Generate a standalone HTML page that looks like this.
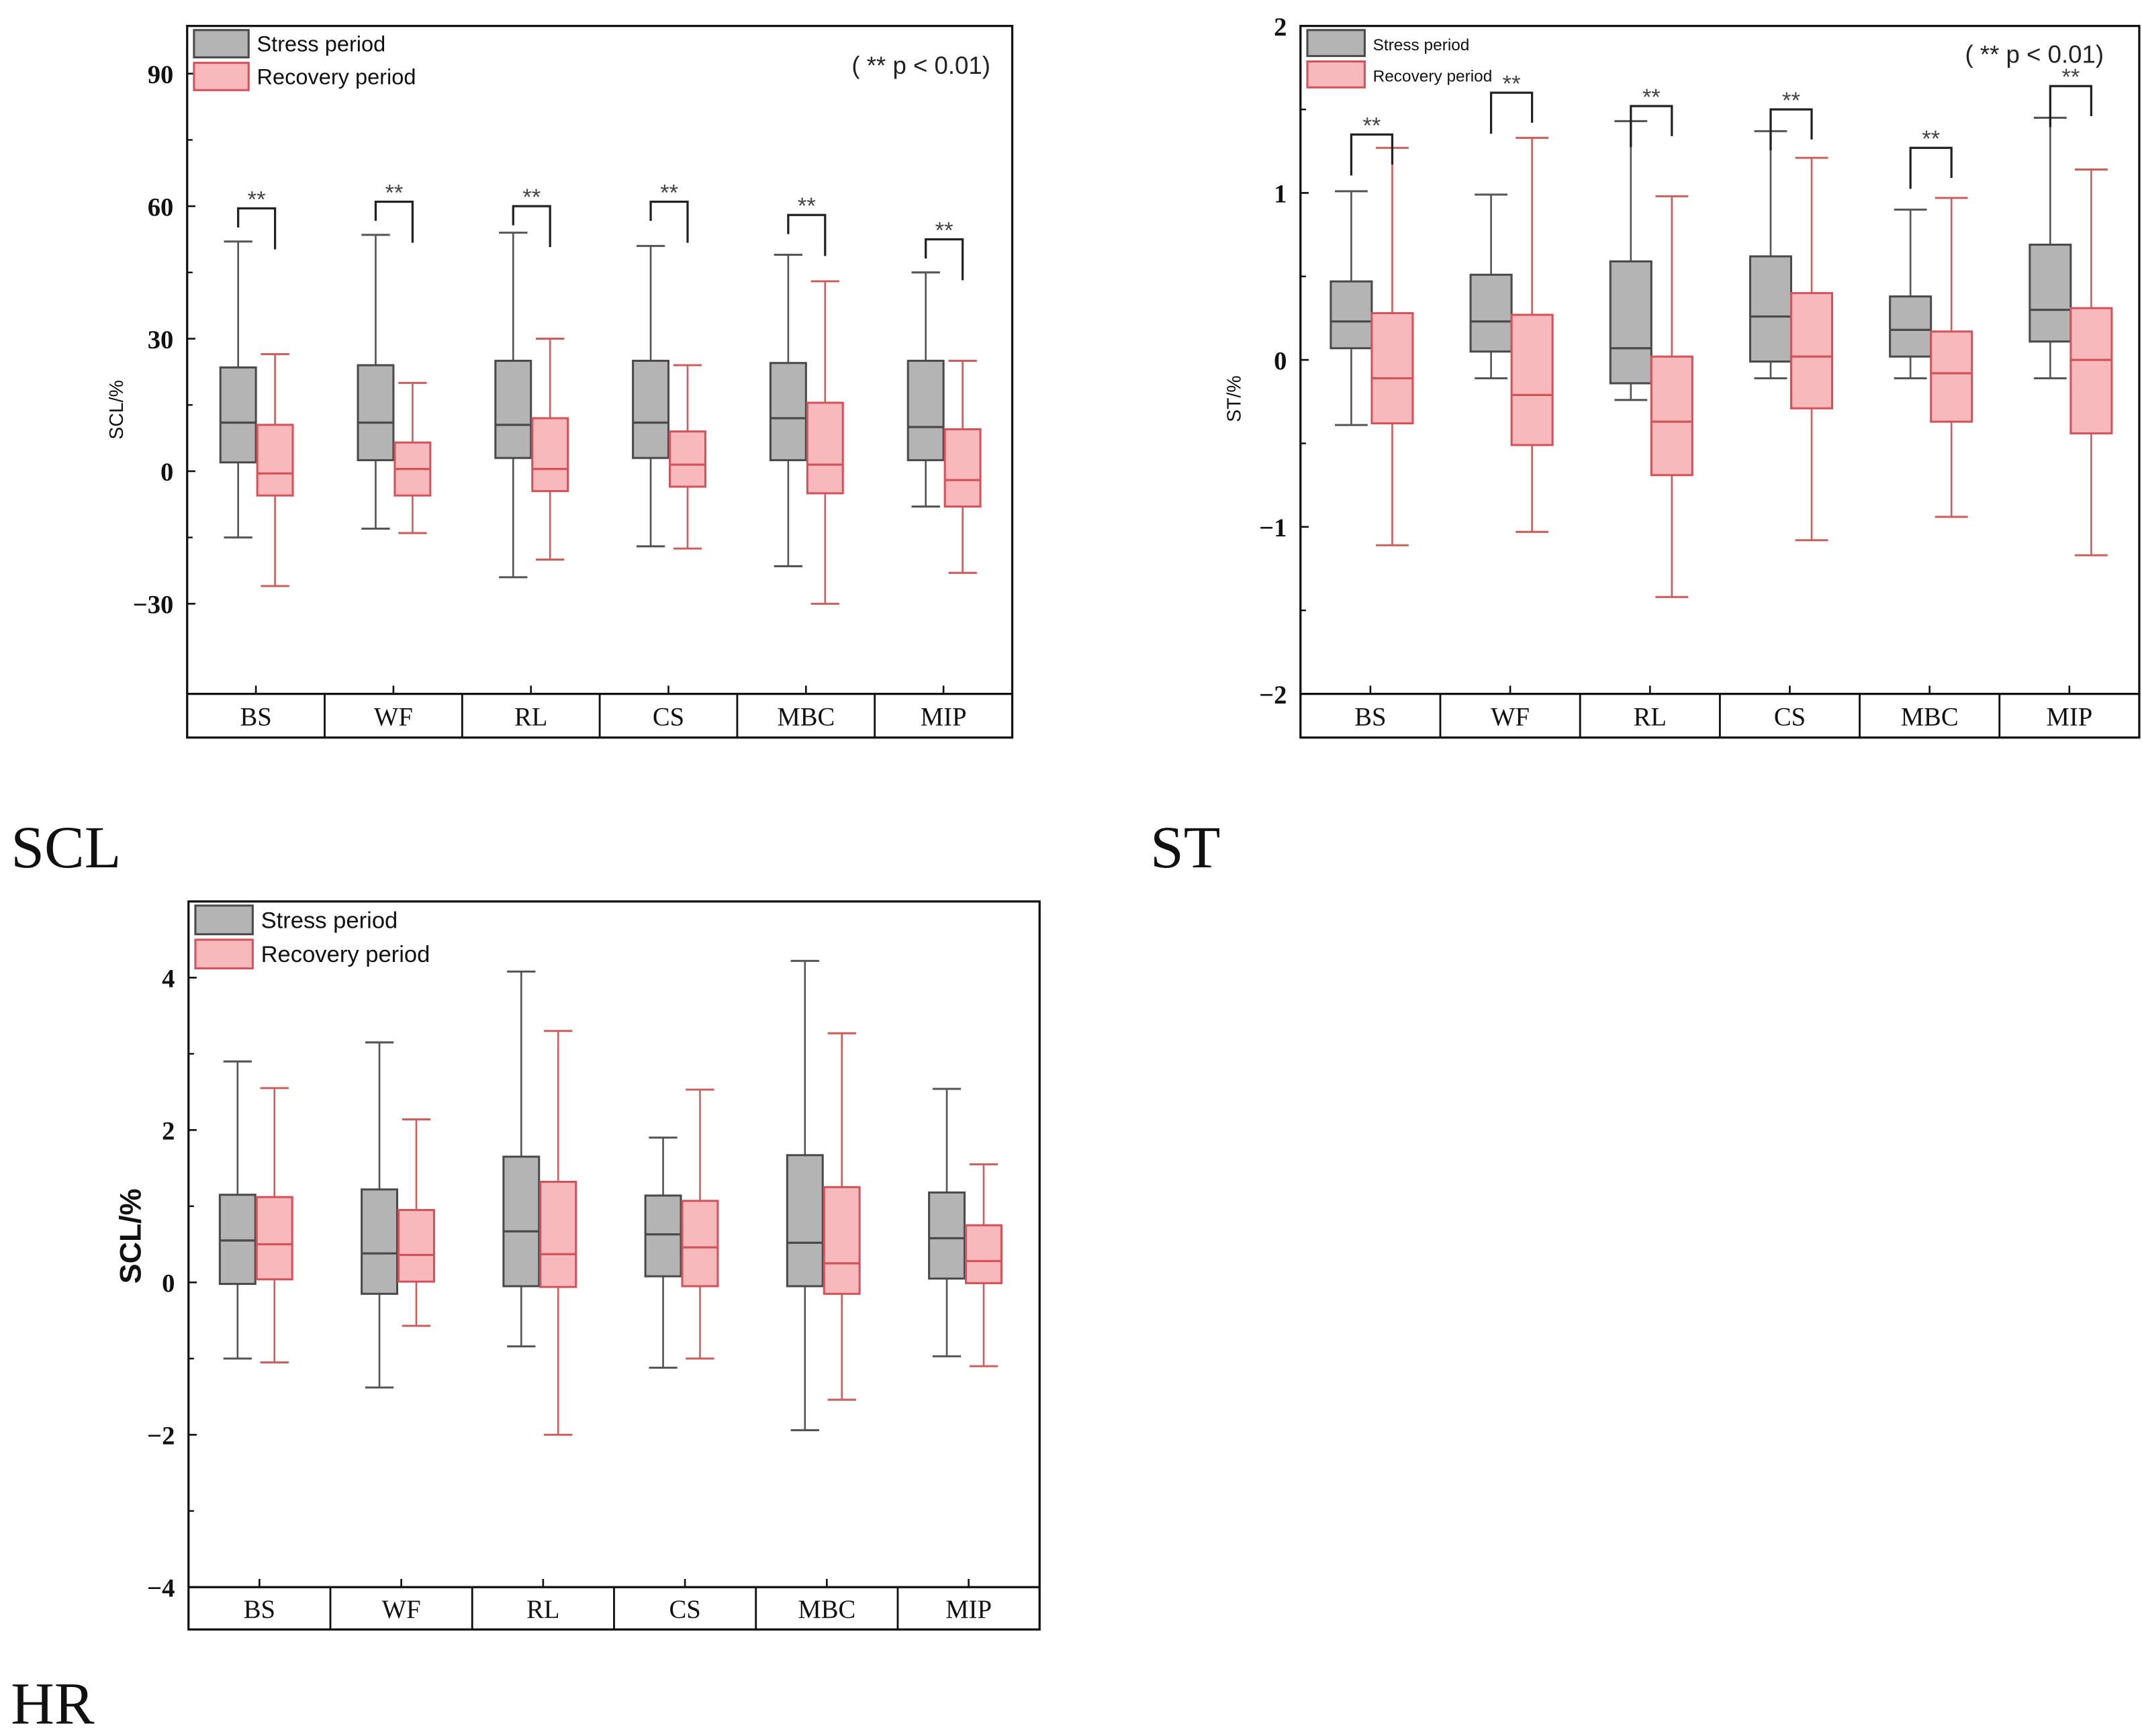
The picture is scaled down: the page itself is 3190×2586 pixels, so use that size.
<!DOCTYPE html>
<html><head><meta charset="utf-8">
<style>
html,body{margin:0;padding:0;background:#fff;}
svg{display:block;}
.tick{font-family:"Liberation Serif",serif;font-weight:bold;font-size:19px;fill:#111;}
.cat{font-family:"Liberation Serif",serif;font-size:19px;fill:#111;}
.leg{font-family:"Liberation Sans",sans-serif;font-size:16px;fill:#111;}
.panel{font-family:"Liberation Serif",serif;font-size:44px;fill:#111;}
</style></head>
<body>
<svg id="fig" width="3190" height="2586" viewBox="0 0 1568 1271" preserveAspectRatio="none" xmlns="http://www.w3.org/2000/svg">
<rect x="0" y="0" width="1568" height="1271" fill="#fff"/>
<text class="panel" x="8" y="635">SCL</text>
<text class="panel" x="842" y="635">ST</text>
<text class="panel" x="8" y="1262">HR</text>
</svg>
<script>
const categories = ["BS","WF","RL","CS","MBC","MIP"];
// SCL panel: [whiskerHigh, q3, median, q1, whiskerLow]
const sclStress = [[52,23.5,11,2,-15],[53.5,24,11,2.5,-13],[54,25,10.5,3,-24],[51,25,11,3,-17],[49,24.5,12,2.5,-21.5],[45,25,10,2.5,-8]];
const sclRecovery = [[26.5,10.5,-0.5,-5.5,-26],[20,6.5,0.5,-5.5,-14],[30,12,0.5,-4.5,-20],[24,9,1.5,-3.5,-17.5],[43,15.5,1.5,-5,-30],[25,9.5,-2,-8,-23]];
const sclBrackets = [59.5,61,60,61,58,52.5];
const sclTicks = [-30,0,30,60,90];
// ST panel
const stStress = [[1.01,0.47,0.23,0.07,-0.39],[0.99,0.51,0.23,0.05,-0.11],[1.43,0.59,0.07,-0.14,-0.24],[1.37,0.62,0.26,-0.01,-0.11],[0.90,0.38,0.18,0.02,-0.11],[1.45,0.69,0.30,0.11,-0.11]];
const stRecovery = [[1.27,0.28,-0.11,-0.38,-1.11],[1.33,0.27,-0.21,-0.51,-1.03],[0.98,0.02,-0.37,-0.69,-1.42],[1.21,0.40,0.02,-0.29,-1.08],[0.97,0.17,-0.08,-0.37,-0.94],[1.14,0.31,0.00,-0.44,-1.17]];
const stBrackets = [1.35,1.6,1.52,1.5,1.27,1.64];
const stTicks = [-2,-1,0,1,2];
// HR panel
const hrStress = [[2.9,1.15,0.55,-0.02,-1.0],[3.15,1.22,0.38,-0.15,-1.38],[4.08,1.65,0.67,-0.05,-0.84],[1.9,1.14,0.63,0.08,-1.12],[4.22,1.67,0.52,-0.05,-1.94],[2.54,1.18,0.58,0.05,-0.97]];
const hrRecovery = [[2.55,1.12,0.5,0.04,-1.05],[2.14,0.95,0.36,0.01,-0.57],[3.3,1.32,0.37,-0.06,-2.0],[2.53,1.07,0.46,-0.05,-1.0],[3.27,1.25,0.25,-0.15,-1.54],[1.55,0.75,0.28,-0.01,-1.1]];
const hrTicks = [-4,-2,0,2,4];

const NS="http://www.w3.org/2000/svg";
const svg=document.getElementById('fig');
function mk(tag,attrs,parent,text){const e=document.createElementNS(NS,tag);for(const k in attrs)e.setAttribute(k,attrs[k]);if(text!==undefined)e.textContent=text;(parent||svg).appendChild(e);return e;}

function drawPanel(cfg){
  const g=mk('g',{});
  
  
  const {L,R,T,A,B,ymin,ymax}=cfg;
  const y=v=>A-(v-ymin)/(ymax-ymin)*(A-T);
  const bandW=(R-L)/categories.length;
  const cx=i=>L+bandW*(i+0.5);
  const fr=mk('rect',{x:L,y:T,width:R-L,height:B-T,fill:'none',stroke:'#111','stroke-width':1.6},g);
  
  
  const ax=mk('line',{x1:L,y1:A,x2:R,y2:A,stroke:'#111','stroke-width':1.6},g);
  
  
  cfg.ticks.forEach((t,k)=>{
    mk('line',{x1:L,y1:y(t),x2:L+6,y2:y(t),stroke:'#111','stroke-width':1.3},g);
    const tx=mk('text',{x:L-10,y:y(t)+7,'text-anchor':'end',class:'tick'},g,t<0?'\u2212'+Math.abs(t):String(t));
    
    
    if(k<cfg.ticks.length-1){const m=(t+cfg.ticks[k+1])/2;mk('line',{x1:L,y1:y(m),x2:L+4,y2:y(m),stroke:'#111','stroke-width':1.2},g);}
  });
  const yl=mk('text',{x:cfg.ylx,y:cfg.yly,transform:`rotate(-90 ${cfg.ylx} ${cfg.yly})`,'text-anchor':'middle',style:cfg.ylStyle},g,cfg.ylabel);
  
  
  categories.forEach((c,i)=>{
    if(i>0)mk('line',{x1:L+bandW*i,y1:A,x2:L+bandW*i,y2:B,stroke:'#111','stroke-width':1.4},g);
    mk('line',{x1:cx(i),y1:A,x2:cx(i),y2:A-6,stroke:'#111','stroke-width':1.3},g);
    const ct=mk('text',{x:cx(i),y:(A+B)/2+7,'text-anchor':'middle',class:'cat'},g,c);
    
    
  });
  const drawBox=(d,x,fill,stroke,wh,nm)=>{
    const bg=mk('g',{},g);
    
    
    const w=cfg.bw,cap=cfg.bw*0.4;
    mk('line',{x1:x,y1:y(d[0]),x2:x,y2:y(d[1]),stroke:wh,'stroke-width':1.3},bg);
    mk('line',{x1:x,y1:y(d[3]),x2:x,y2:y(d[4]),stroke:wh,'stroke-width':1.3},bg);
    mk('line',{x1:x-cap,y1:y(d[0]),x2:x+cap,y2:y(d[0]),stroke:wh,'stroke-width':1.5},bg);
    mk('line',{x1:x-cap,y1:y(d[4]),x2:x+cap,y2:y(d[4]),stroke:wh,'stroke-width':1.5},bg);
    mk('rect',{x:x-w/2,y:y(d[1]),width:w,height:y(d[3])-y(d[1]),fill:fill,stroke:stroke,'stroke-width':1.5},bg);
    mk('line',{x1:x-w/2,y1:y(d[2]),x2:x+w/2,y2:y(d[2]),stroke:stroke,'stroke-width':1.6},bg);
  };
  categories.forEach((c,i)=>{
    const xs=cx(i)+cfg.off[0], xr=cx(i)+cfg.off[1];
    drawBox(cfg.stress[i],xs,'#b4b4b4','#4a4a4a','#555','box-stress-'+c.toLowerCase());
    drawBox(cfg.recovery[i],xr,'#f8b9bd','#d2535a','#c9605f','box-recovery-'+c.toLowerCase());
    if(cfg.brackets){
      const by=y(cfg.brackets[i]);
      const br=mk('g',{},g);
      
      
      mk('polyline',{points:`${xs},${by+cfg.legs[0]} ${xs},${by} ${xr},${by} ${xr},${by+cfg.legs[1]}`,fill:'none',stroke:'#222','stroke-width':1.6},br);
      mk('text',{x:(xs+xr)/2,y:by-1,'text-anchor':'middle',style:'font-family:"Liberation Sans",sans-serif;font-size:17px;fill:#444'},br,'**');
    }
  });
  const lg=mk('g',{},g);
  
  
  const lx=L+5, ly=T+3, lh=cfg.legH, lw=cfg.legW;
  mk('rect',{x:lx,y:ly,width:lw,height:lh,fill:'#b4b4b4',stroke:'#4a4a4a','stroke-width':1.5},lg);
  mk('rect',{x:lx,y:ly+lh+4,width:lw,height:lh,fill:'#f8b9bd',stroke:'#d2535a','stroke-width':1.5},lg);
  mk('text',{x:lx+lw+6,y:ly+lh*0.78,class:'leg',style:`font-size:${cfg.legF}px`},lg,'Stress period');
  mk('text',{x:lx+lw+6,y:ly+lh*1.78+4,class:'leg',style:`font-size:${cfg.legF}px`},lg,'Recovery period');
  if(cfg.note){
    const n=mk('text',{x:R-cfg.noteDx,y:T+cfg.noteDy,'text-anchor':'end',style:'font-family:"Liberation Sans",sans-serif;font-size:18px;fill:#222'},g,'( ** p < 0.01)');
    
    
  }
}

drawPanel({name:'scl-chart',L:137,R:741,T:19,A:508,B:540,ymin:-50.4,ymax:100.8,ticks:sclTicks,
  stress:sclStress,recovery:sclRecovery,brackets:sclBrackets,legs:[14,30],off:[-13,14],bw:26,
  ylabel:'SCL/%',ylx:90,yly:300,ylStyle:'font-family:"Liberation Sans",sans-serif;font-size:14px;fill:#111',
  legH:20,legW:40,legF:16,note:true,noteDx:16,noteDy:35});
drawPanel({name:'st-chart',L:952,R:1566,T:19,A:508,B:540,ymin:-2,ymax:2,ticks:stTicks,
  stress:stStress,recovery:stRecovery,brackets:stBrackets,legs:[30,22],off:[-14,16],bw:30,
  ylabel:'ST/%',ylx:908,yly:292,ylStyle:'font-family:"Liberation Sans",sans-serif;font-size:14px;fill:#111',
  legH:19,legW:42,legF:12,note:true,noteDx:26,noteDy:27});
drawPanel({name:'hr-chart',L:138,R:761,T:660,A:1162,B:1193,ymin:-4,ymax:5,ticks:hrTicks,
  stress:hrStress,recovery:hrRecovery,brackets:null,off:[-16,11],bw:26,
  ylabel:'SCL/%',ylx:103,yly:905,ylStyle:'font-family:"Liberation Sans",sans-serif;font-size:22px;font-weight:bold;fill:#111',
  legH:21,legW:42,legF:17,note:false});
</script>
</body></html>
